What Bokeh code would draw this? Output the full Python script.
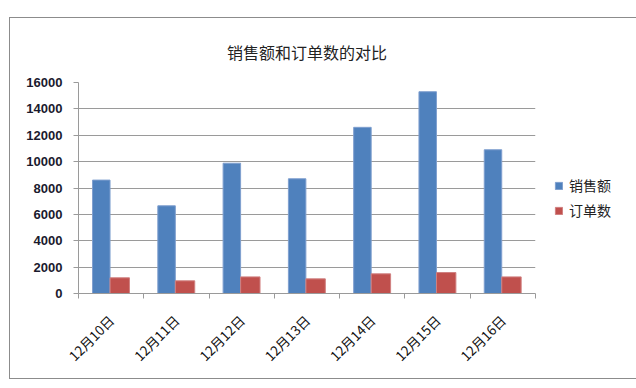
import math
from bokeh.plotting import figure
from bokeh.models import (FixedTicker, Legend, LegendItem, ColumnDataSource, Range1d)
from bokeh.embed import file_html
from bokeh.resources import INLINE

# ---- data ----
dates = ["12月10日", "12月11日", "12月12日", "12月13日", "12月14日", "12月15日", "12月16日"]
sales = [8600, 6650, 9880, 8700, 12600, 15300, 10900]
orders = [1190, 960, 1260, 1110, 1490, 1590, 1260]
y_ticks = [0, 2000, 4000, 6000, 8000, 10000, 12000, 14000, 16000]
series_names = ["销售额", "订单数"]

BLUE = "#4F81BD"
RED = "#C0504D"
GRID = "#9a9a9a"
CJK = "Noto Sans CJK SC"

idx = list(range(len(dates)))
src = ColumnDataSource(dict(
    xs=[i + 0.349 for i in idx],
    xo=[i + 0.632 for i in idx],
    sales=sales,
    orders=orders,
))

p = figure(frame_width=457, frame_height=211,
           x_range=Range1d(0, len(dates)), y_range=Range1d(y_ticks[0], y_ticks[-1]),
           output_backend="svg", toolbar_location=None,
           min_border_left=68, min_border_right=80, min_border_top=64, min_border_bottom=85)
p.styles = {"border": "1px solid #8c8c8c", "margin-top": "17px", "margin-left": "9px"}
p.outline_line_color = None
p.background_fill_color = "white"

rs = p.vbar(x="xs", top="sales", width=0.268, source=src, fill_color=BLUE, line_color="#7f9fcf", line_width=1)
ro = p.vbar(x="xo", top="orders", width=0.297, source=src, fill_color=RED, line_color="#d08080", line_width=1)

# title
p.title.text = "销售额和订单数的对比"
p.title.align = "center"
p.title.text_font = CJK
p.title.text_font_size = "16px"
p.title.text_font_style = "normal"
p.title.text_color = "#222222"
p.title.standoff = 37

# x axis
xa = p.xaxis[0]
xa.ticker = FixedTicker(ticks=[i + 0.5 for i in idx], minor_ticks=list(range(len(dates) + 1)))
xa.major_label_overrides = {i + 0.5: d for i, d in zip(idx, dates)}
xa.major_label_orientation = math.pi / 4
xa.major_tick_out = 0
xa.major_tick_in = 0
xa.minor_tick_out = 5
xa.minor_tick_in = 0
xa.minor_tick_line_color = GRID
xa.axis_line_color = GRID
xa.major_label_text_font = CJK
xa.major_label_text_font_size = "13.5px"
xa.major_label_text_color = "#111111"
xa.major_label_standoff = 19

# y axis
ya = p.yaxis[0]
ya.ticker = FixedTicker(ticks=y_ticks)
ya.major_tick_out = 5
ya.major_tick_in = 0
ya.minor_tick_line_color = None
ya.major_tick_line_color = GRID
ya.axis_line_color = GRID
ya.major_label_text_font = "Liberation Sans"
ya.major_label_text_font_style = "bold"
ya.major_label_text_font_size = "13px"
ya.major_label_text_color = "#1a1a2e"
ya.major_label_standoff = 11

p.xgrid.visible = False
p.ygrid.ticker = FixedTicker(ticks=y_ticks)
p.ygrid.grid_line_color = GRID

# legend in the right-hand panel
legend = Legend(items=[LegendItem(label=series_names[0], renderers=[rs]),
                       LegendItem(label=series_names[1], renderers=[ro])],
                location=(19, 73), glyph_width=9, glyph_height=9, label_height=9,
                label_standoff=6, spacing=5, padding=0, margin=0,
                border_line_color=None, background_fill_alpha=0,
                label_text_font=CJK, label_text_font_size="14px", label_text_color="#222222")
p.add_layout(legend, "right")

open("out.html", "w").write(file_html(p, INLINE))
